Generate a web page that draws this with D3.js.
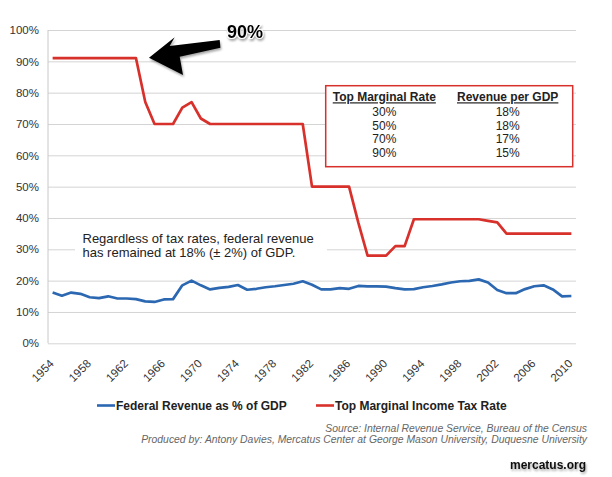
<!DOCTYPE html>
<html>
<head>
<meta charset="utf-8">
<script src="https://cdn.jsdelivr.net/npm/d3@7"></script>
<style>
  body { margin: 0; background: #fff; }
  svg { display: block; font-family: Helvetica, Arial, "Liberation Sans", sans-serif; }
  .grid line { stroke: #d4d4d4; stroke-width: 1; }
  .grid text { fill: #333; font-size: 11.5px; }
  .xaxis text { fill: #333; font-size: 11.5px; }
</style>
</head>
<body>
<script>

// chart data
const years = [1954, 1955, 1956, 1957, 1958, 1959, 1960, 1961, 1962, 1963,
    1964, 1965, 1966, 1967, 1968, 1969, 1970, 1971, 1972, 1973,
    1974, 1975, 1976, 1977, 1978, 1979, 1980, 1981, 1982, 1983,
    1984, 1985, 1986, 1987, 1988, 1989, 1990, 1991, 1992, 1993,
    1994, 1995, 1996, 1997, 1998, 1999, 2000, 2001, 2002, 2003,
    2004, 2005, 2006, 2007, 2008, 2009, 2010];

const revenue = [16.2, 15.2, 16.2, 15.8, 14.7, 14.4, 15.0, 14.3, 14.3, 14.1,
    13.4, 13.2, 14.0, 14.1, 18.5, 20.0, 18.5, 17.2, 17.7, 18.0,
    18.6, 17.1, 17.4, 17.9, 18.2, 18.6, 19.0, 19.8, 18.7, 17.2,
    17.2, 17.6, 17.4, 18.3, 18.2, 18.2, 18.1, 17.6, 17.2, 17.3,
    17.9, 18.3, 18.8, 19.4, 19.8, 19.9, 20.4, 19.4, 17.0, 16.0,
    16.0, 17.3, 18.2, 18.5, 17.2, 15.0, 15.1];

const topRate = [91, 91, 91, 91, 91, 91, 91, 91, 91, 91,
    77, 70, 70, 70, 75.25, 77, 71.75, 70, 70, 70,
    70, 70, 70, 70, 70, 70, 70, 70, 50, 50,
    50, 50, 50, 38.5, 28, 28, 28, 31, 31, 39.6,
    39.6, 39.6, 39.6, 39.6, 39.6, 39.6, 39.6, 39.1, 38.6, 35,
    35, 35, 35, 35, 35, 35, 35];

const yTicks = [0, 10, 20, 30, 40, 50, 60, 70, 80, 90, 100];
const xTickYears = [1954, 1958, 1962, 1966, 1970, 1974, 1978, 1982, 1986, 1990, 1994, 1998, 2002, 2006, 2010];

const tableHeaders = ["Top Marginal Rate", "Revenue per GDP"];
const tableRates = ["30%", "50%", "70%", "90%"];
const tableRevenue = ["18%", "18%", "17%", "15%"];

const seriesNames = ["Federal Revenue as % of GDP", "Top Marginal Income Tax Rate"];
const noteLines = ["Regardless of tax rates, federal revenue", "has remained at 18% (\u00b1 2%) of GDP."];
const sourceLines = ["Source: Internal Revenue Service, Bureau of the Census",
    "Produced by: Antony Davies, Mercatus Center at George Mason University, Duquesne University"];

// SVG size
const w = 612;
const h = 477;
const plotLeft = 48, plotRight = 576, plotTop = 30, plotBottom = 343.3;

const blue = "#2b68b1";
const red = "#d8302b";

const svg = d3.select("body")
    .append("svg")
    .attr("width", w)
    .attr("height", h);

const defs = svg.append("defs");
const shadow = defs.append("filter")
    .attr("id", "shadow")
    .attr("x", "-20%").attr("y", "-20%")
    .attr("width", "150%").attr("height", "160%");
shadow.append("feDropShadow")
    .attr("dx", 1).attr("dy", 2)
    .attr("stdDeviation", 1.2)
    .attr("flood-color", "#000")
    .attr("flood-opacity", 0.35);

// scales
const x = d3.scalePoint()
    .domain(years)
    .range([plotLeft, plotRight])
    .padding(0.5);

const y = d3.scaleLinear()
    .domain([0, 100])
    .range([plotBottom, plotTop]);

// gridlines + y labels
const yAxis = d3.axisLeft(y)
    .tickValues(yTicks)
    .tickSize(-(plotRight - plotLeft))
    .tickPadding(9)
    .tickFormat(d => d + "%");

svg.append("g")
    .attr("class", "grid")
    .attr("transform", `translate(${plotLeft}, 0)`)
    .call(yAxis)
    .call(g => g.select(".domain").remove());

// left axis line
svg.append("line")
    .attr("x1", plotLeft).attr("x2", plotLeft)
    .attr("y1", y(100)).attr("y2", y(0))
    .attr("stroke", "#c8c8c8");

// x labels, rotated
const xAxis = svg.append("g").attr("class", "xaxis");
xAxis.selectAll("text")
    .data(xTickYears)
    .join("text")
    .attr("transform", d => `translate(${x(d) + 2}, ${plotBottom + 21}) rotate(-45)`)
    .attr("text-anchor", "end")
    .text(d => d);

// note with white background
svg.append("rect")
    .attr("x", 75).attr("y", 230)
    .attr("width", 252).attr("height", 32)
    .attr("fill", "#fff");

svg.append("g")
    .selectAll("text")
    .data(noteLines)
    .join("text")
    .attr("x", 82.5)
    .attr("y", (d, i) => 242.7 + i * 14)
    .attr("font-size", "13px")
    .attr("fill", "#222")
    .text(d => d);

// lines
const valueLine = d3.line()
    .x((d, i) => x(years[i]))
    .y(d => y(d));

svg.append("path")
    .datum(revenue)
    .attr("fill", "none")
    .attr("stroke", blue)
    .attr("stroke-width", 2.7)
    .attr("stroke-linejoin", "round")
    .attr("d", valueLine);

svg.append("path")
    .datum(topRate)
    .attr("fill", "none")
    .attr("stroke", red)
    .attr("stroke-width", 2.7)
    .attr("stroke-linejoin", "round")
    .attr("d", valueLine);

// table box
const tb = { x: 325.7, y: 85.7, w: 247, h: 81 };
svg.append("rect")
    .attr("x", tb.x).attr("y", tb.y)
    .attr("width", tb.w).attr("height", tb.h)
    .attr("fill", "#fff")
    .attr("stroke", red)
    .attr("stroke-width", 1.5);

const colX = [384.3, 507.7];
svg.append("g")
    .selectAll("text")
    .data(tableHeaders)
    .join("text")
    .attr("x", (d, i) => colX[i])
    .attr("y", 101.3)
    .attr("text-anchor", "middle")
    .attr("font-size", "12px")
    .attr("font-weight", "bold")
    .attr("fill", "#222")
    .style("text-decoration", "underline")
    .text(d => d);

[tableRates, tableRevenue].forEach((col, c) => {
    svg.append("g")
        .selectAll("text")
        .data(col)
        .join("text")
        .attr("x", colX[c])
        .attr("y", (d, i) => 116 + i * 13.6)
        .attr("text-anchor", "middle")
        .attr("font-size", "12px")
        .attr("fill", "#222")
        .text(d => d);
});

// 90% arrow, tip placed off the last 91% year
const tipX = x(1963) + 13, tipY = y(91) - 0.5;
const arrowPts = [[0, 0], [25.7, -20.4], [20.7, -11.7], [70.7, -17.7], [71.4, -10], [30.7, -1], [34, 17.3]];
svg.append("path")
    .attr("d", d3.line().curve(d3.curveLinearClosed)(arrowPts.map(p => [tipX + p[0], tipY + p[1]])))
    .attr("fill", "#000")
    .attr("filter", "url(#shadow)");

svg.append("text")
    .attr("x", 227)
    .attr("y", 38)
    .attr("font-size", "18px")
    .attr("font-weight", "bold")
    .attr("fill", "#000")
    .attr("stroke", "#fff")
    .attr("stroke-width", 2)
    .attr("paint-order", "stroke")
    .attr("filter", "url(#shadow)")
    .text("90%");

// legend
const legend = [{ x: 97, c: blue }, { x: 316, c: red }];
legend.forEach((l, i) => {
    svg.append("line")
        .attr("x1", l.x).attr("x2", l.x + 18)
        .attr("y1", 405.5).attr("y2", 405.5)
        .attr("stroke", l.c)
        .attr("stroke-width", 2.6);
    svg.append("text")
        .attr("x", l.x + 19)
        .attr("y", 410)
        .attr("font-size", "12px")
        .attr("font-weight", "bold")
        .attr("fill", "#222")
        .text(seriesNames[i]);
});

// source
svg.append("g")
    .selectAll("text")
    .data(sourceLines)
    .join("text")
    .attr("x", 587)
    .attr("y", (d, i) => 432 + i * 11)
    .attr("text-anchor", "end")
    .attr("font-size", "10.4px")
    .attr("font-style", "italic")
    .attr("fill", "#666")
    .text(d => d);

// mercatus.org
svg.append("text")
    .attr("x", 586)
    .attr("y", 469)
    .attr("text-anchor", "end")
    .attr("font-size", "12px")
    .attr("font-weight", "bold")
    .attr("fill", "#111")
    .attr("filter", "url(#shadow)")
    .text("mercatus.org");

</script>
</body>
</html>
